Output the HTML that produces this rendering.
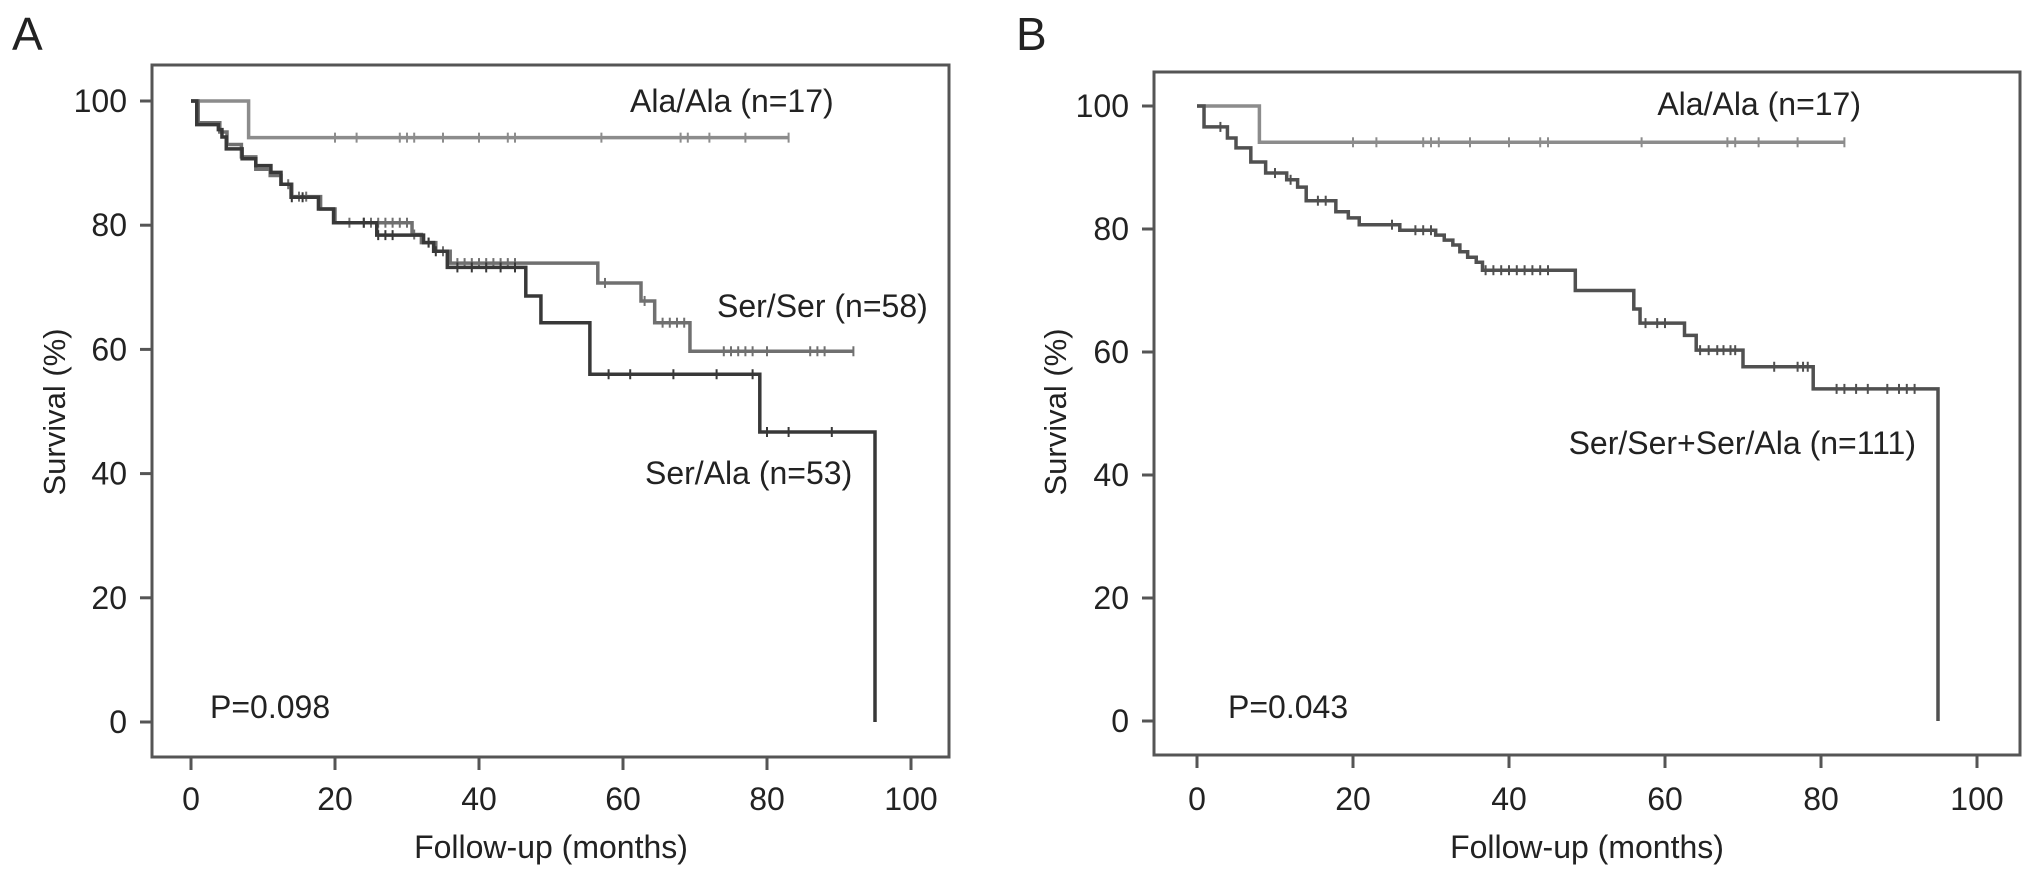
<!DOCTYPE html>
<html><head><meta charset="utf-8"><style>
html,body{margin:0;padding:0;background:#fff}
svg{display:block}
text{font-family:"Liberation Sans",Arial,sans-serif;fill:#222}
</style></head><body>
<svg id="fig" width="2032" height="878" viewBox="0 0 2032 878" xmlns="http://www.w3.org/2000/svg"></svg>
<script>
// ---- data ----
const xTicks = [0,20,40,60,80,100];
const yTicks = [0,20,40,60,80,100];
// Panel A
const aAlaTimes = [0,8,83];
const aAlaSurv = [100,94.1,94.1];
const aAlaCens = [20,23,29,30,31,35,40,44,45,57,68,69,72,77,83];
const aSerSerTimes = [0,1,4,5,7,9,11,12.5,14,18,20,30.7,32,34,36,56.5,62.5,64.4,69.3,92];
const aSerSerSurv = [100,96.5,95,93,91,89,88,86.6,84.6,82.6,80.4,78.5,77.2,75.8,73.9,70.7,67.8,64.3,59.7,59.7];
const aSerSerCens = [13.5,15,16,22,24,25,26,27,28,29,30,31,33,35,37,38,39,40,41,42,43,44,45,57.5,63,65.5,66.5,67.5,68.5,74,75,76,77,78,80,86,87,88,92];
const aSerAlaTimes = [0,0.8,3.8,4.3,4.9,7.1,9,11.1,12.5,13.9,17.7,19.8,25.8,32.3,33.7,35.6,46.5,48.6,55.4,79,95];
const aSerAlaSurv = [100,96.2,95.4,94.2,92.3,90.7,89.6,88.5,86.6,84.5,82.6,80.4,78.4,77.2,75.8,73.2,68.6,64.3,56,46.7,0];
const aSerAlaCens = [14,15.5,24,26,27,28,33,34,37,39,41,43,45,58,61,67,73,78,80,83,89];
// Panel B
const bAlaTimes = [0,8,83];
const bAlaSurv = [100,94.1,94.1];
const bAlaCens = [20,23,29,30,31,35,40,44,45,57,68,69,72,77,83];
const bSerTimes = [0,0.9,3.9,5,6.9,8.8,11.5,12.9,14,17.8,19.4,20.8,26,30.6,31.7,32.8,33.7,34.7,35.8,36.6,48.5,56,56.8,62.5,64,70,79,95];
const bSerSurv = [100,96.6,94.8,93.2,90.9,89.1,88,86.8,84.6,82.8,81.8,80.7,79.8,79,78.2,77.4,76.3,75.4,74.6,73.3,70,67,64.7,62.7,60.3,57.6,54,0];
const bSerCens = [3,10,12,15.5,16.5,25,28,29,30,37,38,39,40,41,42,43,44,45,57.5,59,60,64.5,65.6,66.7,67.5,68.4,69,74,77,77.7,78.3,82,83,84.5,86,88.5,90,91,92];

const NS = "http://www.w3.org/2000/svg";
const svg = document.getElementById('fig');
function el(tag, attrs, parent){
  const e = document.createElementNS(NS, tag);
  for (const k in attrs) e.setAttribute(k, attrs[k]);
  (parent||svg).appendChild(e);
  return e;
}
function txt(parent, s, x, y, size, anchor, extra){
  const t = el('text', Object.assign({x:x, y:y, 'font-size':size, 'text-anchor':anchor||'start'}, extra||{}), parent);
  t.textContent = s;
  return t;
}

function panel(cfg){
  const g = el('g', {});
  
  
  const X = m => cfg.x0 + m*cfg.px;
  const Y = s => cfg.y0 - s*cfg.py;
  const box = el('rect', {x:cfg.left, y:cfg.top, width:cfg.right-cfg.left, height:cfg.bottom-cfg.top, fill:'none', stroke:'#555', 'stroke-width':3}, g);
  
  
  yTicks.forEach(v => {
    const l = el('line', {x1:cfg.left-12, x2:cfg.left, y1:Y(v), y2:Y(v), stroke:'#555', 'stroke-width':3}, g);
    
    
    const t = txt(g, String(v), cfg.left-25, Y(v)+11, 32, 'end');
    
    
  });
  xTicks.forEach(v => {
    const l = el('line', {x1:X(v), x2:X(v), y1:cfg.bottom, y2:cfg.bottom+13, stroke:'#555', 'stroke-width':3}, g);
    
    
    const t = txt(g, String(v), X(v), 810, 32, 'middle');
    
    
  });
  cfg.series.forEach(s => {
    let d = 'M' + X(s.t[0]) + ' ' + Y(s.s[0]);
    for (let i = 1; i < s.t.length; i++){
      d += ' H' + X(s.t[i]) + ' V' + Y(s.s[i]);
    }
    const p = el('path', {d:d, fill:'none', stroke:s.color, 'stroke-width':3.5}, g);
    
    
    s.c.forEach(c => {
      let lvl = s.s[0];
      for (let i = 0; i < s.t.length; i++){ if (s.t[i] <= c) lvl = s.s[i]; }
      if (s.t[s.t.length-1] <= c && s.s[s.s.length-1] === 0) lvl = s.s[s.s.length-2];
      const m = el('line', {x1:X(c), x2:X(c), y1:Y(lvl)-5, y2:Y(lvl)+5, stroke:s.color, 'stroke-width':2}, g);
      
      
    });
  });
  return g;
}

const gA = panel({name:'panel-a', left:152, right:949, top:65, bottom:757, x0:191, px:7.2, y0:722, py:6.21,
  series:[
    {name:'ala-ala-curve', t:aAlaTimes, s:aAlaSurv, c:aAlaCens, color:'#8c8c8c'},
    {name:'ser-ser-curve', t:aSerSerTimes, s:aSerSerSurv, c:aSerSerCens, color:'#707070'},
    {name:'ser-ala-curve', t:aSerAlaTimes, s:aSerAlaSurv, c:aSerAlaCens, color:'#383838'}
  ]});
const gB = panel({name:'panel-b', left:1154, right:2020, top:72, bottom:755, x0:1197, px:7.8, y0:721, py:6.15,
  series:[
    {name:'ala-ala-curve', t:bAlaTimes, s:bAlaSurv, c:bAlaCens, color:'#8c8c8c'},
    {name:'ser-combined-curve', t:bSerTimes, s:bSerSurv, c:bSerCens, color:'#505050'}
  ]});

let t;
t = txt(svg, 'A', 12, 50, 46, 'start');
 
t = txt(svg, 'B', 1016, 50, 46, 'start');
 

t = txt(svg, 'Ala/Ala (n=17)', 630, 112, 32, 'start');
 
t = txt(svg, 'Ser/Ser (n=58)', 717, 317, 32, 'start');
 
t = txt(svg, 'Ser/Ala (n=53)', 645, 484, 32, 'start');
 
t = txt(svg, 'P=0.098', 210, 718, 32, 'start');
 
t = txt(svg, 'Survival (%)', 0, 0, 31, 'middle', {transform:'translate(65,412) rotate(-90)'});
 
t = txt(svg, 'Follow-up (months)', 551, 858, 32, 'middle');
 

t = txt(svg, 'Ala/Ala (n=17)', 1861, 115, 32, 'end');
 
t = txt(svg, 'Ser/Ser+Ser/Ala (n=111)', 1916, 454, 32, 'end');
 
t = txt(svg, 'P=0.043', 1228, 718, 32, 'start');
 
t = txt(svg, 'Survival (%)', 0, 0, 31, 'middle', {transform:'translate(1066,412) rotate(-90)'});
 
t = txt(svg, 'Follow-up (months)', 1587, 858, 32, 'middle');
 
</script>
</body></html>
